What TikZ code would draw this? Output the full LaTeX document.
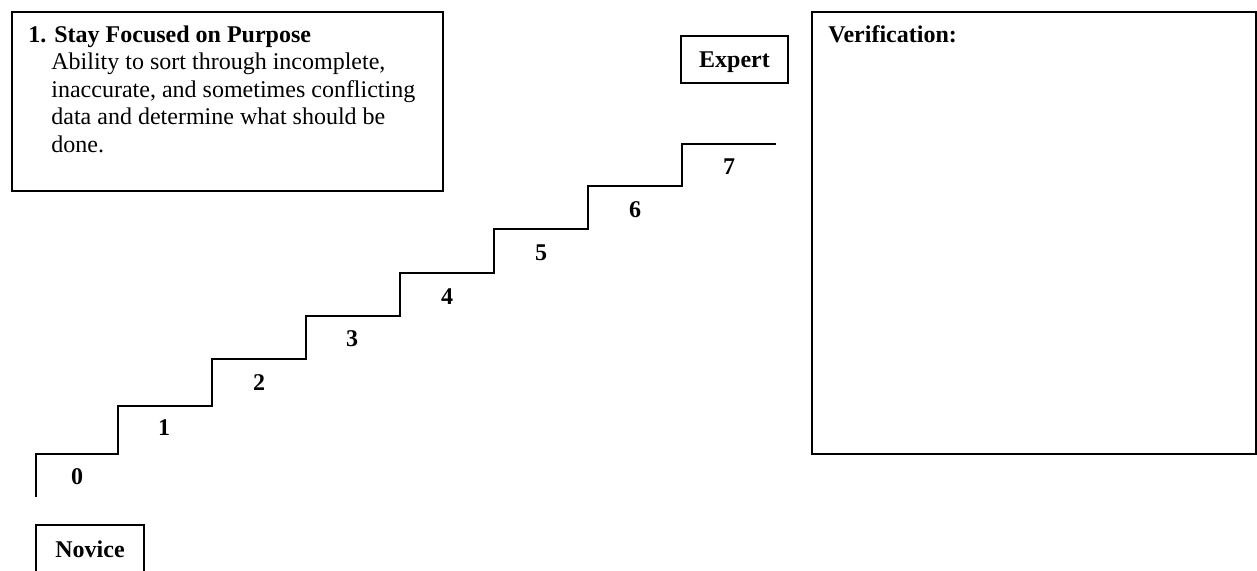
\documentclass[tikz,border=0pt]{standalone}
\usepackage{fontspec}
\setmainfont{Liberation Serif}
\begin{document}
\begin{tikzpicture}[x=0.5pt,y=-0.5pt,
  frame/.style={draw=black,line width=1.05pt},
  stair/.style={draw=black,line width=1.3pt},
  txt/.style={inner sep=0pt,anchor=base west,font=\fontsize{12}{13.8}\selectfont},
  btxt/.style={inner sep=0pt,font=\fontsize{12}{13.8}\selectfont\bfseries},
  num/.style={inner sep=0pt,font=\fontsize{12}{13.8}\selectfont\bfseries}]
\useasboundingbox (0,0) rectangle (1257,570);
\clip (0,0) rectangle (1257,570);
% left description box
\draw[frame] (12,12) rectangle (443,191);
\node[txt,font=\fontsize{12}{13.8}\selectfont\bfseries] (t1) at (28,42) {1. Stay Focused on Purpose};
\node[txt] (t2) at (51,69.6) {Ability to sort through incomplete,};
\node[txt] (t3) at (51,97.2) {inaccurate, and sometimes conflicting};
\node[txt] (t4) at (51,124.8) {data and determine what should be};
\node[txt] (t5) at (51,152.4) {done.};
% expert box
\draw[frame] (681,36) rectangle (788,83);
\node[btxt,anchor=base] (expert) at (734.5,67) {Expert};
% verification box
\draw[frame] (812,12) rectangle (1256,454);
\node[txt,font=\fontsize{12}{13.8}\selectfont\bfseries] (verif) at (828,42) {Verification:};
% novice box (open at the bottom edge of the picture)
\draw[frame] (36,600) -- (36,525) -- (144,525) -- (144,600);
\node[btxt,anchor=base] (novice) at (90,557) {Novice};
% staircase
\draw[stair] (36,497) -- (36,454) -- (118,454) -- (118,406) -- (212,406)
  -- (212,359) -- (306,359) -- (306,316) -- (400,316) -- (400,273)
  -- (494,273) -- (494,229) -- (588,229) -- (588,186) -- (682,186)
  -- (682,144) -- (776,144);
% step numbers
\node[num] (n0) at (77,477) {0};
\node[num] (n1) at (164,428) {1};
\node[num] (n2) at (259,383) {2};
\node[num] (n3) at (352,339) {3};
\node[num] (n4) at (447,297) {4};
\node[num] (n5) at (541,253) {5};
\node[num] (n6) at (635,210) {6};
\node[num] (n7) at (729,167) {7};
\end{tikzpicture}
\end{document}
